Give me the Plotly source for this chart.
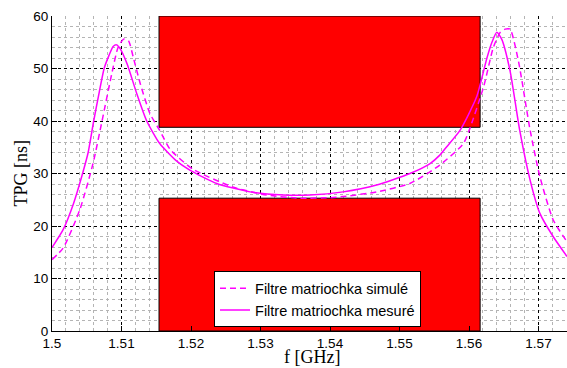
import plotly.graph_objects as go

# ---- data ----
f_sim = [1.5000, 1.5016, 1.5040, 1.5059, 1.5072, 1.5086, 1.5095, 1.5103, 1.5110,
         1.5117, 1.5127, 1.5141, 1.5155, 1.5170, 1.5203, 1.5261, 1.5309, 1.5357,
         1.5400, 1.5419, 1.5467, 1.5515, 1.5558, 1.5592, 1.5601, 1.5621, 1.5635,
         1.5645, 1.5652, 1.5659, 1.5671, 1.5688, 1.5702, 1.5721, 1.5741]
tpg_sim = [13.6, 15.8, 23.1, 31.9, 40.0, 49.0, 54.0, 55.6, 55.3,
           52.1, 47.1, 41.4, 38.2, 34.6, 30.8, 27.4, 25.9, 25.3,
           25.4, 25.6, 26.5, 28.1, 31.6, 35.7, 38.5, 46.5, 54.0,
           56.9, 57.5, 57.5, 51.5, 38.2, 29.4, 21.2, 17.0]

f_meas = [1.5000, 1.5016, 1.5031, 1.5044, 1.5052, 1.5060, 1.5068, 1.5075, 1.5082,
          1.5088, 1.5093, 1.5098, 1.5108, 1.5122, 1.5136, 1.5155, 1.5180, 1.5199,
          1.5237, 1.5285, 1.5333, 1.5371, 1.5419, 1.5467, 1.5515, 1.5544, 1.5558,
          1.5568, 1.5587, 1.5611, 1.5626, 1.5633, 1.5640, 1.5647, 1.5659, 1.5673,
          1.5688, 1.5702, 1.5721, 1.5741]
tpg_meas = [15.9, 19.3, 24.3, 30.0, 34.0, 40.0, 45.5, 50.0, 52.5,
            54.2, 54.5, 53.8, 50.9, 45.2, 40.1, 35.7, 32.3, 30.6,
            28.1, 26.5, 25.9, 25.9, 26.5, 27.8, 30.0, 31.9, 33.5,
            35.1, 38.2, 44.6, 52.1, 55.0, 56.9, 55.6, 49.6, 38.2,
            28.7, 22.4, 18.0, 14.2]

# gabarit (template) regions
mask_f = [1.5154, 1.5616]
mask_upper = [38.8, 60]
mask_lower = [0, 25.3]

x_ticks = [1.5, 1.51, 1.52, 1.53, 1.54, 1.55, 1.56, 1.57]
x_tick_labels = ["1.5", "1.51", "1.52", "1.53", "1.54", "1.55", "1.56", "1.57"]
y_ticks = [0, 10, 20, 30, 40, 50, 60]
x_range = [1.5, 1.5741]
y_range = [0, 60]

MAG = "#FF00FF"

fig = go.Figure()
fig.add_trace(go.Scatter(x=f_sim, y=tpg_sim, mode="lines",
                         name="Filtre matriochka simulé",
                         line=dict(color=MAG, width=1.5, dash="6px,4px", shape="spline", smoothing=0.6)))
fig.add_trace(go.Scatter(x=f_meas, y=tpg_meas, mode="lines",
                         name="Filtre matriochka mesuré",
                         line=dict(color=MAG, width=1.5, shape="spline", smoothing=0.6)))

for (y0, y1) in (mask_upper, mask_lower):
    fig.add_shape(type="rect", xref="x", yref="y",
                  x0=mask_f[0], x1=mask_f[1], y0=y0, y1=y1,
                  fillcolor="#FF0000", line=dict(color="black", width=1),
                  layer="between")

axis_common = dict(
    showgrid=True, gridcolor="black", griddash="dot", gridwidth=1,
    showline=True, linecolor="black", linewidth=1,
    ticks="inside", ticklen=5, tickcolor="black",
    zeroline=False, tickfont=dict(size=13.5, color="black"),
)
fig.update_xaxes(range=x_range, tickvals=x_ticks, ticktext=x_tick_labels,
                 minor=dict(dtick=0.002, tick0=1.5, showgrid=True, gridcolor="#b4b4b4",
                            griddash="dot", gridwidth=1),
                 **axis_common)
fig.update_yaxes(range=y_range, tickvals=y_ticks,
                 minor=dict(dtick=2, tick0=0, showgrid=True, gridcolor="#b4b4b4",
                            griddash="dot", gridwidth=1),
                 **axis_common)

fig.add_annotation(text="f [GHz]", xref="paper", yref="paper", x=0.505, y=-0.083,
                   xanchor="center", yanchor="middle", showarrow=False,
                   font=dict(family="Liberation Serif", size=18, color="black"))
fig.add_annotation(text="TPG [ns]", xref="paper", yref="paper", x=-0.062, y=0.5,
                   xanchor="center", yanchor="middle", showarrow=False, textangle=-90,
                   font=dict(family="Liberation Serif", size=18, color="black"))

fig.update_layout(
    width=567, height=368,
    margin=dict(l=52, r=0, t=15.5, b=36.5),
    paper_bgcolor="white", plot_bgcolor="white",
    font=dict(family="Liberation Sans", size=13.5, color="black"),
    showlegend=True,
    legend=dict(x=0.3146, y=0.012, xanchor="left", yanchor="bottom",
                bgcolor="white", bordercolor="black", borderwidth=1,
                font=dict(size=14.5, color="black"), tracegroupgap=0,
                itemwidth=30),
)

fig.write_html("out.html", config={"displayModeBar": False},
               post_script="document.body.style.margin='0';document.body.style.overflow='hidden';")
